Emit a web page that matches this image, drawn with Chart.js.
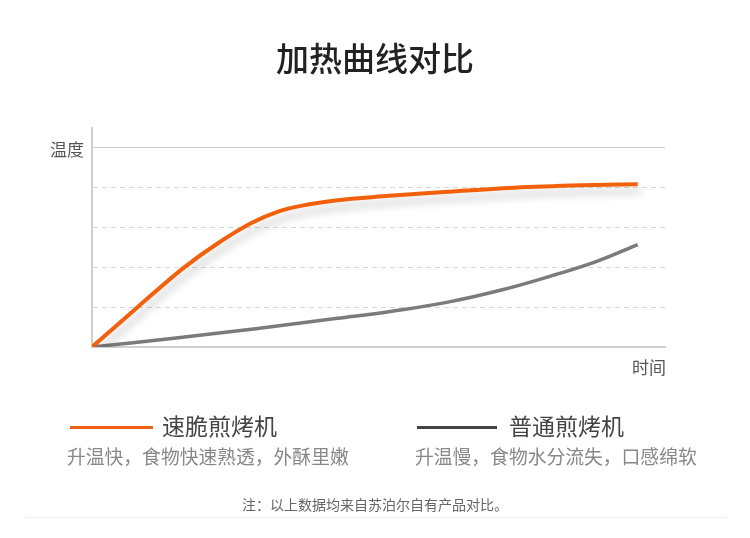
<!DOCTYPE html>
<html>
<head>
<meta charset="utf-8">
<script src="https://cdn.jsdelivr.net/npm/chart.js@4"></script>
<style>
    body { margin: 0; background: #fff; font-family: "Noto Sans CJK SC", sans-serif; }
    #wrap { position: relative; width: 750px; height: 538px; overflow: hidden; }
    #wrap canvas { position: absolute; left: 0; top: 0; }
    .t { position: absolute; white-space: nowrap; line-height: 1; }
    .title { left: 0; width: 750px; top: 41px; text-align: center; font-size: 33px; color: #222; font-weight: 500; }
    .axis { font-size: 17px; color: #555; }
    .name { font-size: 23px; color: #444; }
    .desc { font-size: 18.8px; color: #888; }
    .swatch { position: absolute; height: 3px; }
    .note { left: 0; width: 750px; top: 497px; text-align: center; font-size: 14px; color: #666; }
    .rule { position: absolute; left: 25px; top: 517px; width: 702px; height: 1px; background: #eee; }
</style>
</head>
<body>
<div id="wrap">
    <canvas id="heat-chart" width="750" height="538"></canvas>
    <div class="t title">加热曲线对比</div>
    <div class="t axis" style="left:50px; top:140px;">温度</div>
    <div class="t axis" style="left:632px; top:358px;">时间</div>

    <div class="swatch" style="left:70px; top:426px; width:83px; background:#ec5f14;"></div>
    <div class="t name" style="left:162px; top:414px;">速脆煎烤机</div>
    <div class="t desc" style="left:67px; top:447px;">升温快，食物快速熟透，外酥里嫩</div>

    <div class="swatch" style="left:417px; top:426px; width:80px; background:#444;"></div>
    <div class="t name" style="left:509px; top:414px;">普通煎烤机</div>
    <div class="t desc" style="left:415px; top:447px;">升温慢，食物水分流失，口感绵软</div>

    <div class="t note">注：以上数据均来自苏泊尔自有产品对比。</div>
    <div class="rule"></div>
</div>
<script>
// time steps (x) and temperature readings (y)
const fastTimes = [0, 0.85, 1.69, 2.3, 2.93, 3.41, 3.85, 4.46, 5.38, 6.52, 7.74, 8.97, 10];
const fastTemp = [0, 1.02, 2.0, 2.6, 3.12, 3.4, 3.55, 3.68, 3.79, 3.9, 4.0, 4.06, 4.09];
const normalTimes = [0, 1.5, 3, 4.5, 5.5, 6.5, 7.5, 8.5, 9.25, 10];
const normalTemp = [0, 0.22, 0.46, 0.72, 0.9, 1.12, 1.43, 1.82, 2.15, 2.57];
const seriesNames = ['速脆煎烤机', '普通煎烤机'];

const toPoints = (xs, ys) => xs.map((x, i) => ({ x: x, y: ys[i] }));

// soft shadow under the orange curve
const shadowPlugin = {
    id: 'lineShadow',
    beforeDatasetDraw: function(chart, args) {
        if (args.index !== 0) return;
        const ctx = chart.ctx;
        ctx.save();
        ctx.shadowColor = 'rgba(0, 0, 0, 0.22)';
        ctx.shadowBlur = 8;
        ctx.shadowOffsetX = 3;
        ctx.shadowOffsetY = 7;
    },
    afterDatasetDraw: function(chart, args) {
        if (args.index !== 0) return;
        chart.ctx.restore();
    }
};

const heatCtx = document.getElementById('heat-chart').getContext('2d');

const heatChart = new Chart(heatCtx, {
    type: 'line',
    data: {
        datasets: [{
            label: seriesNames[0],
            data: toPoints(fastTimes, fastTemp),
            borderColor: '#f2600c',
            borderWidth: 4,
            pointRadius: 0,
            cubicInterpolationMode: 'monotone',
            fill: false,
        }, {
            label: seriesNames[1],
            data: toPoints(normalTimes, normalTemp),
            borderColor: '#7b7b7b',
            borderWidth: 3.5,
            pointRadius: 0,
            tension: 0.4,
            fill: false,
        }],
    },
    options: {
        responsive: false,
        animation: false,
        layout: {
            padding: { left: 92, right: 85, top: 128, bottom: 191 },
        },
        plugins: {
            legend: { display: false },
            tooltip: { enabled: false },
        },
        scales: {
            x: {
                type: 'linear',
                min: 0,
                max: 10.5,
                ticks: { display: false },
                grid: { display: false, drawTicks: false },
                border: { color: '#cfcfcf', width: 2 },
            },
            y: {
                min: 0,
                max: 5.5,
                ticks: { display: false, stepSize: 1 },
                grid: {
                    drawTicks: false,
                    lineWidth: 1,
                    color: function(ctx) {
                        if (!ctx.tick || ctx.tick.value === 0 || ctx.tick.value > 5) return 'rgba(0,0,0,0)';
                        return ctx.tick.value === 5 ? '#cccccc' : '#d6d6d6';
                    },
                },
                border: {
                    color: '#cfcfcf',
                    width: 2,
                    dash: function(ctx) {
                        if (ctx.tick && ctx.tick.value < 5) return [5, 4];
                        return [];
                    },
                },
            },
        },
    },
    plugins: [shadowPlugin],
});
</script>
</body>
</html>
